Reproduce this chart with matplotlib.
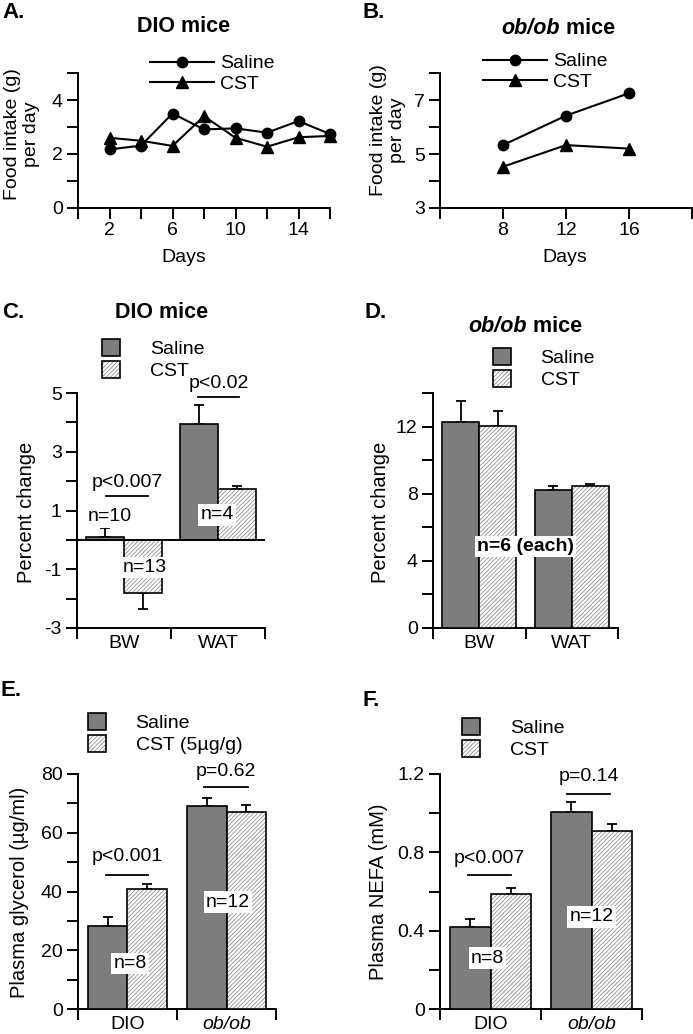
import numpy as np
import matplotlib.pyplot as plt
from matplotlib.patches import Patch

plt.rcParams['font.family'] = ['Liberation Sans', 'DejaVu Sans']
plt.rcParams['font.size'] = 14
plt.rcParams['axes.unicode_minus'] = False
plt.rcParams['hatch.linewidth'] = 0.6

W, H = 693, 1034
SAL = '#7d7d7d'
HATCH = '#8f8f8f'
HPAT = '////////'

# A. food intake, DIO mice
days_a = [2, 4, 6, 8, 10, 12, 14, 16]
saline_a = [2.17, 2.31, 3.50, 2.91, 2.95, 2.79, 3.22, 2.74]
cst_a = [2.60, 2.49, 2.30, 3.40, 2.60, 2.27, 2.62, 2.67]

# B. food intake, ob/ob mice
days_b = [8, 12, 16]
saline_b = [5.33, 6.42, 7.25]
cst_b = [4.53, 5.33, 5.20]

# C. / D. percent change
cats_cd = ['BW', 'WAT']
saline_c = [0.09, 3.93]
saline_c_err = [0.31, 0.67]
cst_c = [-1.80, 1.73]
cst_c_err = [0.54, 0.09]

saline_d = [12.30, 8.22]
saline_d_err = [1.25, 0.22]
cst_d = [12.06, 8.44]
cst_d_err = [0.84, 0.16]

# E. / F. plasma glycerol and NEFA
cats_ef = ['DIO', 'ob/ob']
saline_e = [28.3, 69.2]
saline_e_err = [2.9, 2.8]
cst_e = [41.0, 67.1]
cst_e_err = [1.5, 2.4]

saline_f = [0.417, 1.008]
saline_f_err = [0.041, 0.048]
cst_f = [0.587, 0.908]
cst_f_err = [0.029, 0.039]

fig = plt.figure(figsize=(W / 100, H / 100), dpi=100)


def rect(x0, y0, x1, y1):
    return [x0 / W, 1 - y1 / H, (x1 - x0) / W, (y1 - y0) / H]


def ftext(x, y, s, **kw):
    return fig.text(x / W, 1 - y / H, s, **kw)


def style(ax):
    for s in ['top', 'right']:
        ax.spines[s].set_visible(False)
    for s in ['left', 'bottom']:
        ax.spines[s].set_linewidth(1.4)
    ax.tick_params(direction='out', length=8, width=1.4, labelsize=14)
    ax.tick_params(axis='x', pad=2)
    ax.tick_params(axis='y', pad=3)
    ax.patch.set_alpha(0)


def line_panel(r, x, sal, cst, xlim, xticks, xlabels, ylim, yticks, ylabels, anchor):
    ax = fig.add_axes(rect(*r))
    style(ax)
    ax.plot(x, sal, color='k', lw=1.5, marker='o', ms=7.5, label='Saline', clip_on=False)
    ax.plot(x, cst, color='k', lw=1.5, marker='^', ms=8.5, label='CST', clip_on=False)
    ax.set_xlim(*xlim)
    ax.set_ylim(*ylim)
    ax.set_xticks(xticks)
    ax.set_xticklabels(xlabels)
    ax.set_yticks(yticks)
    ax.set_yticklabels(ylabels)
    ax.legend(loc='upper left', bbox_to_anchor=anchor, frameon=False, borderaxespad=0,
              borderpad=0, handlelength=3.3, handletextpad=0.3, labelspacing=0.15, fontsize=14)
    return ax


def bar_panel(r, cats, sal, sal_err, cst, cst_err, ylim, yticks, ylabels, anchor, cst_label):
    ax = fig.add_axes(rect(*r))
    style(ax)
    g = np.arange(len(cats)) + 0.5
    ax.bar(g - 0.2, sal, 0.4, color=SAL, edgecolor='k', lw=1.2, zorder=3)
    ax.bar(g + 0.2, cst, 0.4, color='white', edgecolor=HATCH, lw=0, hatch=HPAT, zorder=3)
    ax.bar(g + 0.2, cst, 0.4, fill=False, edgecolor='k', lw=1.2, zorder=3)
    for xs, v, e in [(g - 0.2, sal, sal_err), (g + 0.2, cst, cst_err)]:
        v = np.array(v)
        e = np.array(e)
        lo = np.where(v < 0, e, 0)
        hi = np.where(v < 0, 0, e)
        ax.errorbar(xs, v, yerr=[lo, hi], fmt='none', ecolor='k', elinewidth=1.3,
                    capsize=3.5, capthick=1.3, zorder=2)
    ax.set_xlim(0, len(cats))
    ax.set_ylim(*ylim)
    ax.set_xticks(np.arange(len(cats) + 1))
    ax.set_xticklabels([])
    ax.set_xticks(g, minor=True)
    labs = ax.set_xticklabels(cats, minor=True)
    ax.tick_params(axis='x', which='minor', length=0, pad=5, labelsize=14)
    ax.set_yticks(yticks)
    ax.set_yticklabels(ylabels)
    handles = [Patch(facecolor=SAL, edgecolor='k', lw=1.2),
               (Patch(facecolor='white', edgecolor=HATCH, lw=0, hatch=HPAT),
                Patch(fill=False, edgecolor='k', lw=1.2))]
    ax.legend(handles, ['Saline', cst_label], loc='upper left', bbox_to_anchor=anchor,
              frameon=False, borderaxespad=0, borderpad=0, handlelength=0.95,
              handleheight=0.95, handletextpad=1.5, labelspacing=0.15, fontsize=14)
    return ax, labs


def sig(ax, x0, x1, yline, ytext, s):
    ax.plot([x0, x1], [yline, yline], color='k', lw=1.3, clip_on=False)
    ax.text((x0 + x1) / 2, ytext, s, ha='center', va='center', fontsize=14)


def nlab(ax, x, y, s, **kw):
    ax.text(x, y, s, ha='center', va='center', fontsize=14, zorder=6,
            bbox=dict(facecolor='white', edgecolor='none', pad=1.5), **kw)


# ---- A
axA = line_panel((78, 73, 330, 208), days_a, saline_a, cst_a, (0, 16), range(0, 17, 2),
                 ['', '2', '', '6', '', '10', '', '14', ''], (0, 5), range(0, 6),
                 ['0', '', '2', '', '4', ''], (0.286, 1.135))
# ---- B
axB = line_panel((440, 73, 692, 208), days_b, saline_b, cst_b, (4, 20), range(4, 21, 4),
                 ['', '8', '12', '16', ''], (3, 8), range(3, 9),
                 ['3', '', '5', '', '7', ''], (0.17, 1.15))

# ---- C
axC, _ = bar_panel((77, 393, 265, 628), cats_cd, saline_c, saline_c_err, cst_c, cst_c_err,
                   (-3, 5), range(-3, 6), ['-3', '', '-1', '', '1', '', '3', '', '5'],
                   (0.133, 1.23), 'CST')
axC.axhline(0, color='k', lw=1.4, zorder=4)
sig(axC, 0.31, 0.75, 1.5, 1.97, 'p<0.007')
sig(axC, 1.29, 1.72, 4.88, 5.32, 'p<0.02')
nlab(axC, 0.35, 0.78, 'n=10')
nlab(axC, 0.72, -0.95, 'n=13')
nlab(axC, 1.49, 0.85, 'n=4')

# ---- D
axD, _ = bar_panel((433, 393, 618, 628), cats_cd, saline_d, saline_d_err, cst_d, cst_d_err,
                   (0, 14), range(0, 15, 2), ['0', '', '4', '', '8', '', '12', ''],
                   (0.324, 1.19), 'CST')
nlab(axD, 1.0, 4.84, 'n=6 (each)', fontweight='bold')

# ---- E
axE, labsE = bar_panel((78, 774, 276, 1009), cats_ef, saline_e, saline_e_err, cst_e, cst_e_err,
                       (0, 80), range(0, 81, 10), ['0', '', '20', '', '40', '', '60', '', '80'],
                       (0.05, 1.26), 'CST (5µg/g)')
labsE[1].set_fontstyle('italic')
sig(axE, 0.28, 0.71, 45.6, 52, 'p<0.001')
sig(axE, 1.27, 1.72, 75.5, 81, 'p=0.62')
nlab(axE, 0.525, 15.6, 'n=8')
nlab(axE, 1.515, 36.4, 'n=12')

# ---- F
axF, labsF = bar_panel((440, 774, 642, 1009), cats_ef, saline_f, saline_f_err, cst_f, cst_f_err,
                       (0, 1.2), np.arange(0, 1.21, 0.2), ['0', '', '0.4', '', '0.8', '', '1.2'],
                       (0.109, 1.238), 'CST')
labsF[1].set_fontstyle('italic')
sig(axF, 0.28, 0.70, 0.684, 0.766, 'p<0.007')
sig(axF, 1.26, 1.68, 1.098, 1.185, 'p=0.14')
nlab(axF, 0.47, 0.26, 'n=8')
nlab(axF, 1.5, 0.47, 'n=12')

# panel letters
for x, y, s in [(2, 12, 'A.'), (362, 12, 'B.'), (2, 313, 'C.'), (365, 312, 'D.'),
                (1, 690, 'E.'), (363, 700, 'F.')]:
    ftext(x, y, s, ha='left', va='center', fontsize=16, fontweight='bold')

# titles
ftext(184, 27, 'DIO mice', ha='center', va='center', fontsize=15.5, fontweight='bold')
ftext(162, 312, 'DIO mice', ha='center', va='center', fontsize=15.5, fontweight='bold')
for xr, y in [(560, 28), (527, 326)]:
    t = ftext(xr, y, 'ob/ob', ha='right', va='center', fontsize=15.5, fontweight='bold',
              fontstyle='italic')
    fig.add_artist(plt.Annotation(' mice', xy=(1, 0.5), xycoords=t, va='center', ha='left',
                                  fontsize=15.5, fontweight='bold'))

# axis labels
ftext(22, 134, 'Food intake (g)\nper day', rotation=90, ha='center', va='center',
      fontsize=14, multialignment='center', linespacing=1.1)
ftext(388, 130, 'Food intake (g)\nper day', rotation=90, ha='center', va='center',
      fontsize=14, multialignment='center', linespacing=1.1)
ftext(184, 258, 'Days', ha='center', va='center', fontsize=14)
ftext(565, 258, 'Days', ha='center', va='center', fontsize=14)
ftext(26, 512, 'Percent change', rotation=90, ha='center', va='center', fontsize=14.5)
ftext(381, 512, 'Percent change', rotation=90, ha='center', va='center', fontsize=14.5)
ftext(20, 892, 'Plasma glycerol (µg/ml)', rotation=90, ha='center', va='center', fontsize=14.5)
ftext(379, 892, 'Plasma NEFA (mM)', rotation=90, ha='center', va='center', fontsize=14.5)

fig.savefig('out.png', dpi=100)
